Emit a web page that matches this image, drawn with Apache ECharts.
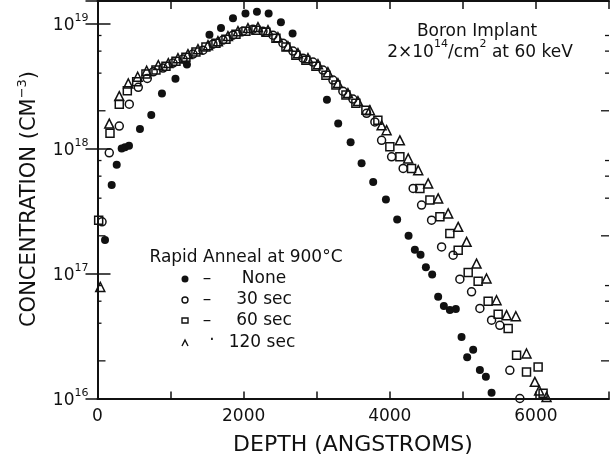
<!DOCTYPE html>
<html><head><meta charset="utf-8">
<script src="https://cdn.jsdelivr.net/npm/echarts@6/dist/echarts.min.js"></script>
<style>html,body{margin:0;padding:0;background:#fff}#c{width:616px;height:465px}</style>
</head><body><div id="c"></div>
<script>
// Depth (Angstroms), concentration (cm^-3)
const annealNone = [[103,1.85e17],[194,5.1e17],[263,7.4e17],[331,1.0e18],[376,1.02e18],[431,1.05e18],[581,1.43e18],[736,1.85e18],[882,2.75e18],[1067,3.6e18],[1224,4.7e18],[1532,8.1e18],[1690,9.2e18],[1854,1.1e19],[2025,1.2e19],[2182,1.24e19],[2342,1.2e19],[2510,1.02e19],[2670,8.3e18],[3140,2.45e18],[3294,1.58e18],[3464,1.12e18],[3614,7.6e17],[3773,5.4e17],[3947,3.9e17],[4101,2.7e17],[4257,2.0e17],[4343,1.55e17],[4421,1.41e17],[4494,1.12e17],[4580,9.8e16],[4662,6.5e16],[4740,5.5e16],[4822,5.1e16],[4904,5.2e16],[4982,3.1e16],[5059,2.14e16],[5141,2.45e16],[5233,1.69e16],[5315,1.49e16],[5393,1.11e16]];
const anneal30 = [[62,2.59e17],[161,9.23e17],[298,1.51e18],[435,2.26e18],[558,3.08e18],[681,3.63e18],[763,4.1e18],[896,4.39e18],[1033,4.81e18],[1170,5.18e18],[1306,5.68e18],[1443,6.11e18],[1580,6.82e18],[1717,7.35e18],[1854,8.05e18],[1990,8.67e18],[2127,8.99e18],[2264,8.67e18],[2401,8.05e18],[2538,6.95e18],[2674,6.0e18],[2811,5.27e18],[2948,4.9e18],[3085,4.23e18],[3222,3.52e18],[3358,2.87e18],[3495,2.48e18],[3683,1.91e18],[3796,1.63e18],[3888,1.16e18],[4025,8.57e17],[4183,6.92e17],[4320,4.79e17],[4435,3.52e17],[4572,2.67e17],[4709,1.63e17],[4867,1.4e17],[4959,9.0e16],[5119,7.13e16],[5233,5.25e16],[5393,4.23e16],[5506,3.85e16],[5643,1.68e16],[5780,1.0e16]];
const anneal60 = [[16,2.67e17],[171,1.32e18],[298,2.26e18],[408,2.89e18],[536,3.41e18],[663,3.93e18],[800,4.23e18],[937,4.55e18],[1074,4.99e18],[1210,5.37e18],[1347,5.89e18],[1484,6.46e18],[1621,6.95e18],[1758,7.48e18],[1895,8.2e18],[2031,8.67e18],[2168,8.83e18],[2305,8.51e18],[2442,7.62e18],[2579,6.46e18],[2715,5.57e18],[2852,5.08e18],[2989,4.55e18],[3126,3.85e18],[3263,3.21e18],[3400,2.67e18],[3536,2.3e18],[3673,2.02e18],[3837,1.68e18],[4001,1.03e18],[4138,8.57e17],[4298,6.92e17],[4412,4.79e17],[4549,3.86e17],[4686,2.84e17],[4822,2.09e17],[4936,1.53e17],[5073,1.02e17],[5209,8.67e16],[5346,6.0e16],[5483,4.72e16],[5620,3.63e16],[5735,2.22e16],[5871,1.63e16],[6030,1.79e16],[6098,1.1e16]];
const anneal120 = [[38,7.8e16],[161,1.58e18],[298,2.62e18],[421,3.31e18],[550,3.74e18],[673,4.18e18],[832,4.64e18],[969,4.81e18],[1101,5.27e18],[1238,5.68e18],[1375,6.22e18],[1512,6.7e18],[1648,7.21e18],[1785,7.91e18],[1922,8.67e18],[2059,9.17e18],[2196,9.34e18],[2333,8.83e18],[2469,7.76e18],[2606,6.58e18],[2743,5.78e18],[2880,5.27e18],[3017,4.72e18],[3153,4.07e18],[3290,3.33e18],[3427,2.77e18],[3564,2.39e18],[3728,2.02e18],[3888,1.53e18],[3956,1.4e18],[4138,1.16e18],[4252,8.32e17],[4389,6.7e17],[4525,5.25e17],[4662,3.98e17],[4799,3.02e17],[4936,2.36e17],[5051,1.79e17],[5187,1.2e17],[5324,9.12e16],[5461,6.11e16],[5598,4.64e16],[5725,4.55e16],[5871,2.29e16],[5985,1.36e16],[6044,1.16e16],[6145,1.03e16]];
const xTickLabels = ['0','2000','4000','6000'];
const yMinorTicks = [2e16,4e16,6e16,8e16,2e17,4e17,6e17,8e17,2e18,4e18,6e18,8e18];

const FONT = 'DejaVu Sans';
const INK = '#111';
const chart = echarts.init(document.getElementById('c'), null, {renderer:'canvas'});

function yLabel(v){
  const e = Math.log10(v);
  if (Math.abs(e - Math.round(e)) > 1e-6) return '';
  return '{b|10}{s|' + Math.round(e) + '}';
}
const axisLine = {show:true, lineStyle:{color:INK, width:2}};
const baseX = {type:'value', min:0, max:7000, interval:1000, splitLine:{show:false}, axisLine};
const baseY = {type:'log', logBase:10, min:1e16, max:1.51e19, splitLine:{show:false}, axisLine, minorTick:{show:false}};
const outline = (sym, size) => ({type:'scatter', symbol:sym, symbolSize:size, z:3,
  itemStyle:{color:'rgba(0,0,0,0)', borderColor:INK, borderWidth:1.5, opacity:1}});

chart.setOption({
  animation:false,
  backgroundColor:'#fff',
  textStyle:{fontFamily:FONT, color:INK},
  grid:{left:97.5, right:7, top:1, bottom:66.5, containLabel:false},
  xAxis:[
    Object.assign({}, baseX, {position:'bottom',
      axisTick:{show:true, inside:true, length:7, lineStyle:{color:INK, width:1.5}},
      axisLabel:{show:true, margin:10, fontSize:17, fontFamily:FONT, color:INK,
        formatter: v => xTickLabels.indexOf(String(v)) >= 0 ? String(v) : ''}}),
    Object.assign({}, baseX, {position:'top',
      axisTick:{show:true, inside:true, length:8, lineStyle:{color:INK, width:1.5}},
      axisLabel:{show:false}})
  ],
  yAxis:[
    Object.assign({}, baseY, {position:'left',
      axisTick:{show:true, inside:true, length:13, lineStyle:{color:INK, width:1.5}},
      axisLabel:{show:true, margin:9, formatter:yLabel, color:INK,
        rich:{b:{fontSize:17, fontFamily:FONT, color:INK, lineHeight:22, verticalAlign:'bottom'},
              s:{fontSize:11, fontFamily:FONT, color:INK, lineHeight:12, verticalAlign:'top'}}}}),
    Object.assign({}, baseY, {position:'right',
      axisTick:{show:true, inside:true, length:12, lineStyle:{color:INK, width:1.5}},
      axisLabel:{show:false}})
  ],
  series:[
    {type:'custom', silent:true, xAxisIndex:0, yAxisIndex:0, z:1,
     data: yMinorTicks.map(v => [0, v]),
     encode:{x:0, y:1},
     renderItem(params, api){
       const v = api.value(1);
       const cs = params.coordSys;
       const y = api.coord([0, v])[1];
       const m = Math.round(v / Math.pow(10, Math.floor(Math.log10(v)) ));
       const len = m === 2 ? 8 : 4;
       const st = {stroke:INK, lineWidth:1.3};
       return {type:'group', children:[
         {type:'line', shape:{x1:cs.x, y1:y, x2:cs.x+len, y2:y}, style:st},
         {type:'line', shape:{x1:cs.x+cs.width-len, y1:y, x2:cs.x+cs.width, y2:y}, style:st}
       ]};
     }},
    {name:'None', type:'scatter', symbol:'circle', symbolSize:8, z:2, data:annealNone,
     itemStyle:{color:INK, opacity:1}},
    Object.assign(outline('circle', 8), {name:'30 sec', data:anneal30}),
    Object.assign(outline('rect', 8), {name:'60 sec', data:anneal60}),
    Object.assign(outline('triangle', 9), {name:'120 sec', data:anneal120})
  ],
  graphic:[
    {type:'text', x:353, y:445, style:{text:'DEPTH (ANGSTROMS)', font:'22px "DejaVu Sans"', fill:INK, align:'center', verticalAlign:'middle'}},
    {type:'text', x:28, y:199, rotation:Math.PI/2,
     style:{text:'{n|CONCENTRATION (CM}{s|−3}{n|)}', align:'center', verticalAlign:'middle', fill:INK,
       rich:{n:{fontSize:21, fontFamily:FONT, fill:INK, lineHeight:24, verticalAlign:'bottom'},
             s:{fontSize:13, fontFamily:FONT, fill:INK, lineHeight:14, verticalAlign:'top'}}}},
    {type:'text', x:477, y:32, style:{text:'Boron Implant', font:'17px "DejaVu Sans"', fill:INK, align:'center', verticalAlign:'middle'}},
    {type:'text', x:480, y:50, style:{text:'{n|2×10}{s|14}{n|/cm}{s|2}{n| at 60 keV}', align:'center', verticalAlign:'middle', fill:INK,
       rich:{n:{fontSize:17, fontFamily:FONT, fill:INK, lineHeight:22, verticalAlign:'bottom'},
             s:{fontSize:11, fontFamily:FONT, fill:INK, lineHeight:12, verticalAlign:'top'}}}},
    {type:'text', x:246, y:258, style:{text:'Rapid Anneal at 900°C', font:'17px "DejaVu Sans"', fill:INK, align:'center', verticalAlign:'middle'}},
    {type:'circle', shape:{cx:185, cy:279, r:3.5}, style:{fill:INK}},
    {type:'circle', shape:{cx:185, cy:300, r:3}, style:{fill:'none', stroke:INK, lineWidth:1.4}},
    {type:'rect', shape:{x:182, y:318, width:6, height:5}, style:{fill:'none', stroke:INK, lineWidth:1.4}},
    {type:'polyline', shape:{points:[[182,346],[185,340],[188,346]]}, style:{fill:'none', stroke:INK, lineWidth:1.4}},
    {type:'text', x:207, y:279, style:{text:'–', font:'17px "DejaVu Sans"', fill:INK, align:'center', verticalAlign:'middle'}},
    {type:'text', x:207, y:300, style:{text:'–', font:'17px "DejaVu Sans"', fill:INK, align:'center', verticalAlign:'middle'}},
    {type:'text', x:207, y:321, style:{text:'–', font:'17px "DejaVu Sans"', fill:INK, align:'center', verticalAlign:'middle'}},
    {type:'text', x:212, y:341, style:{text:'·', font:'17px "DejaVu Sans"', fill:INK, align:'center', verticalAlign:'middle'}},
    {type:'text', x:264, y:279, style:{text:'None', font:'17px "DejaVu Sans"', fill:INK, align:'center', verticalAlign:'middle'}},
    {type:'text', x:264, y:300, style:{text:'30 sec', font:'17px "DejaVu Sans"', fill:INK, align:'center', verticalAlign:'middle'}},
    {type:'text', x:264, y:321, style:{text:'60 sec', font:'17px "DejaVu Sans"', fill:INK, align:'center', verticalAlign:'middle'}},
    {type:'text', x:262, y:343, style:{text:'120 sec', font:'17px "DejaVu Sans"', fill:INK, align:'center', verticalAlign:'middle'}}
  ]
});
</script>
</body></html>
